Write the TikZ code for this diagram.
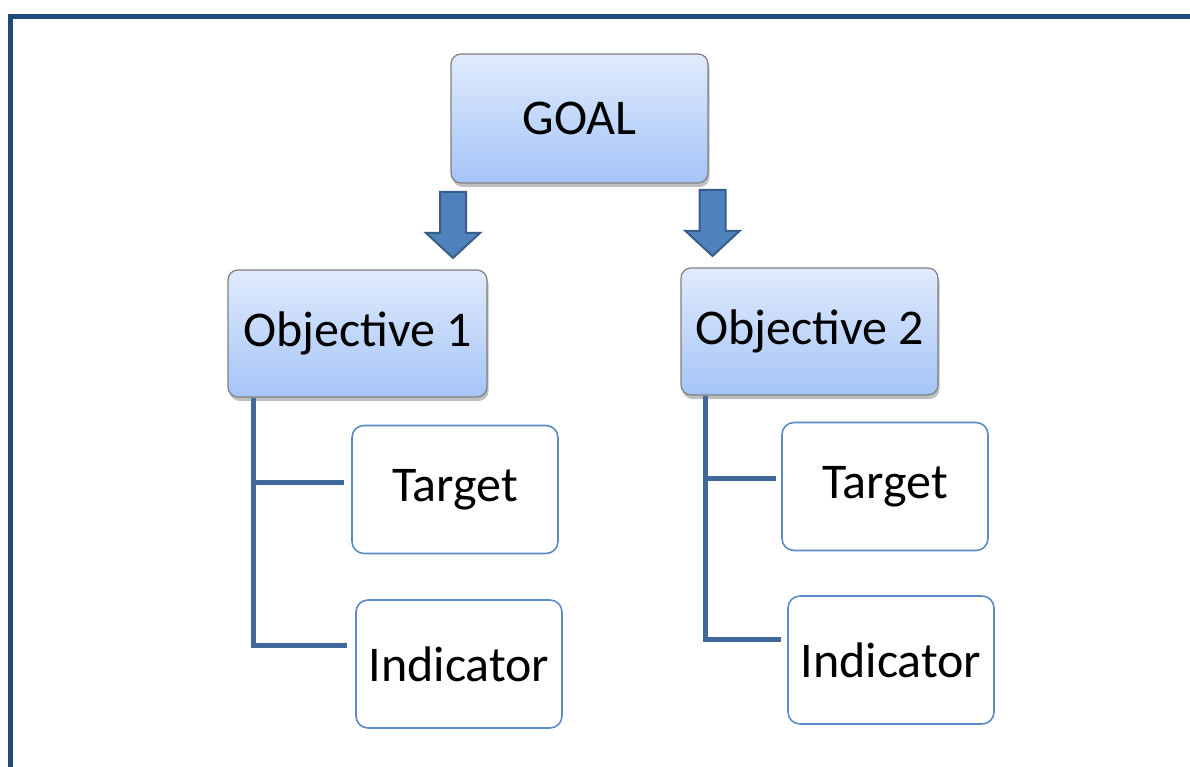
\documentclass[tikz,border=0pt]{standalone}
\usepackage{fontspec}
\setmainfont{Carlito}
\usetikzlibrary{shadows,calc}
\definecolor{frameblue}{HTML}{22497C}
\definecolor{linkblue}{HTML}{41689A}
\definecolor{arrowfill}{HTML}{4F81BD}
\definecolor{arrowdraw}{HTML}{385D8A}
\definecolor{boxtop}{HTML}{E0EBFC}
\definecolor{boxbot}{HTML}{A5C4F7}
\definecolor{boxedge}{HTML}{7F7F7F}
\definecolor{leafedge}{HTML}{5B8CC8}
\tikzset{
  mainbox/.style={rectangle, rounded corners=10pt, draw=boxedge, line width=1.2pt,
    top color=boxtop, bottom color=boxbot,
    drop shadow={shadow xshift=1.5pt, shadow yshift=-4pt, opacity=0.25, fill=black},
    font=\fontsize{50}{55}\selectfont, inner sep=0pt},
  leafbox/.style={rectangle, rounded corners=12pt, draw=leafedge, line width=1.6pt,
    fill=white, minimum width=206pt, minimum height=128pt,
    font=\fontsize{50}{55}\selectfont, inner sep=0pt},
  link/.style={draw=linkblue, line width=5pt},
  blockarrow/.style={fill=arrowfill, draw=arrowdraw, line width=2pt, line join=miter},
}
\begin{document}
\begin{tikzpicture}[x=1pt,y=-1pt]
\useasboundingbox (0,0) rectangle (1190,767);
\clip (0,0) rectangle (1190,767);
% frame
\draw[frameblue, line width=5pt] (1200,16.5) -- (10,16.5) -- (10,780);

% main boxes
\node[mainbox, minimum width=257pt, minimum height=129pt] (goal) at (579.5,118.5) {GOAL};
\node[mainbox, minimum width=259pt, minimum height=127pt] (obj1) at (357.5,333.5) {Objective 1};
\node[mainbox, minimum width=257pt, minimum height=127pt] (obj2) at (809.5,331.5) {Objective 2};

% leaf boxes
\node[leafbox] (t1) at (455,489.5) {Target};
\node[leafbox] (i1) at (459,664) {Indicator};
\node[leafbox] (t2) at (885,486.5) {Target};
\node[leafbox] (i2) at (891,660) {Indicator};

% block arrows
\coordinate (a1) at (453,192);
\coordinate (a2) at (712.5,190);
\foreach \a in {a1,a2}{
  \draw[blockarrow] ($(\a)+(-13,0)$) -- ++(26,0) -- ++(0,41) -- ++(14,0)
    -- ($(\a)+(0,66)$) -- ($(\a)+(-27,41)$) -- ++(14,0) -- cycle;
}

% tree links
\coordinate (v1) at (253,0);
\coordinate (v2) at (705.5,0);
\draw[link] (obj1.south -| v1) -- ($(i1.west -| v1)+(0,-19)$) -- ($(i1.west)+(-8,-19)$);
\draw[link] ($(t1.west -| v1)+(0,-7.5)$) -- ($(t1.west)+(-7,-7.5)$);
\draw[link] (obj2.south -| v2) -- ($(i2.west -| v2)+(0,-21)$) -- ($(i2.west)+(-6,-21)$);
\draw[link] ($(t2.west -| v2)+(0,-8.5)$) -- ($(t2.west)+(-5,-8.5)$);
\end{tikzpicture}
\end{document}
